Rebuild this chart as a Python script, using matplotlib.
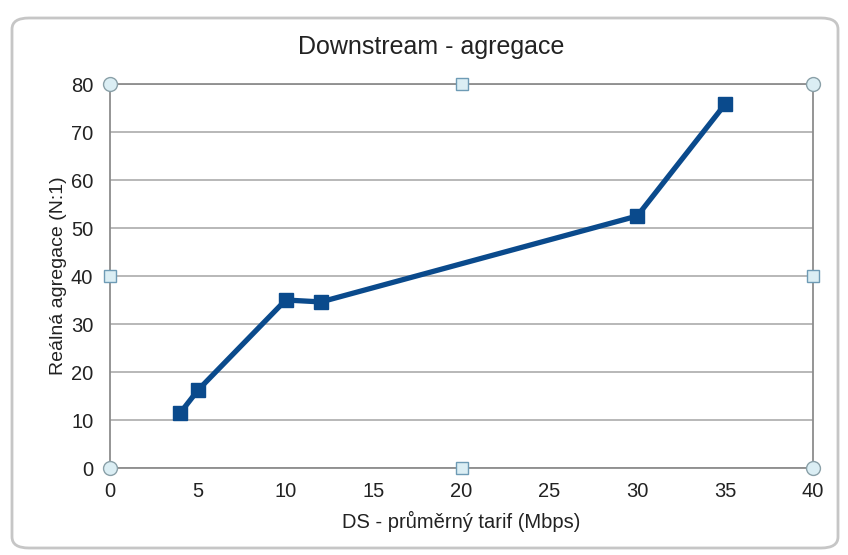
import matplotlib
matplotlib.use("Agg")
import matplotlib.pyplot as plt
from matplotlib.patches import FancyBboxPatch

plt.rcParams['font.family'] = ['Liberation Sans', 'DejaVu Sans']

# Data
tarif = [4, 5, 10, 12, 30, 35]
agregace = [11.5, 16.2, 35.0, 34.6, 52.5, 75.8]
x_ticks = [0, 5, 10, 15, 20, 25, 30, 35, 40]
y_ticks = [0, 10, 20, 30, 40, 50, 60, 70, 80]
title = "Downstream - agregace"
xlabel = "DS - průměrný tarif (Mbps)"
ylabel = "Reálná agregace (N:1)"

W, H = 848, 555
fig = plt.figure(figsize=(W / 100, H / 100), dpi=100)
fig.patch.set_facecolor('white')

# chart container (rounded box)
box = FancyBboxPatch((12 / W, 7 / H), (826 / W), (530 / H),
                     boxstyle="round,pad=0,rounding_size=0.02",
                     transform=fig.transFigure, facecolor='white',
                     edgecolor='#c6c6c6', linewidth=2.0, zorder=-5)
fig.patches.append(box)

left, right = 110 / W, 813 / W
top, bottom = 1 - 84 / H, 1 - 468 / H
ax = fig.add_axes([left, bottom, right - left, top - bottom])
ax.set_zorder(2)
ax.set_facecolor('none')

ax.plot(tarif, agregace, color='#0a4a8c', linewidth=3.8, marker='s',
        markersize=10, markerfacecolor='#0a4a8c', markeredgecolor='#0a4a8c',
        zorder=5, clip_on=False)

ax.set_xlim(0, 40)
ax.set_ylim(0, 80)
ax.set_xticks(x_ticks)
ax.set_yticks(y_ticks)
ax.tick_params(length=0, labelsize=14.5, colors='#222222')
ax.tick_params(axis='x', pad=10)
ax.tick_params(axis='y', pad=12)
ax.yaxis.grid(True, color='#ababab', linewidth=1.2)
ax.set_axisbelow(True)
for s in ax.spines.values():
    s.set_color('#8c8c8c')
    s.set_linewidth(1.3)

fig.text(431 / W, 1 - 54 / H, title, fontsize=18, color='#222222',
         ha='center', va='baseline')
ax.set_xlabel(xlabel, fontsize=14.5, color='#222222', labelpad=7)
ax.set_ylabel(ylabel, fontsize=14, color='#222222', labelpad=3)

# selection handles
for (hx, hy) in [(0, 0), (0, 1), (1, 0), (1, 1)]:
    ax.plot(hx, hy, marker='o', markersize=10, markerfacecolor='#dbeef4',
            markeredgecolor='#8aa0a8', markeredgewidth=1.0,
            transform=ax.transAxes, clip_on=False, zorder=10)
for (hx, hy) in [(0.5, 0), (0.5, 1), (0, 0.5), (1, 0.5)]:
    ax.plot(hx, hy, marker='s', markersize=8, markerfacecolor='#dbeef4',
            markeredgecolor='#6e9bb5', markeredgewidth=1.0,
            transform=ax.transAxes, clip_on=False, zorder=10)

fig.savefig('out.png', dpi=100)
